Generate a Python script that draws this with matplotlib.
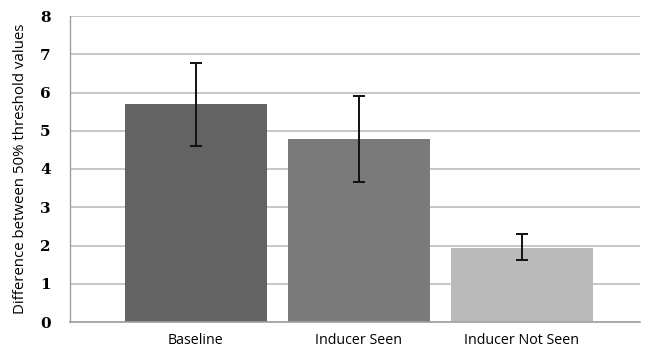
import matplotlib
matplotlib.use("Agg")
import matplotlib.pyplot as plt

categories = ["Baseline", "Inducer Seen", "Inducer Not Seen"]
values = [5.69, 4.78, 1.93]
err_low = [4.61, 3.67, 1.61]
err_high = [6.78, 5.91, 2.30]
colors = ["#636363", "#7a7a7a", "#bababa"]
yticks = [0, 1, 2, 3, 4, 5, 6, 7, 8]

fig = plt.figure(figsize=(6.47, 3.56), dpi=100)
ax = fig.add_axes([70/647, 34/356, 570/647, 306/356])

x = list(range(len(categories)))
yerr = [[v - l for v, l in zip(values, err_low)], [h - v for v, h in zip(values, err_high)]]
ax.bar(x, values, width=0.87, color=colors, zorder=2)
ax.errorbar(x, values, yerr=yerr, fmt="none", ecolor="#111111", elinewidth=1.4,
            capsize=4, capthick=1.4, zorder=3)

ax.set_ylim(0, 8)
ax.set_xlim(-0.773, 2.724)
ax.set_yticks(yticks)
ax.set_yticklabels([str(t) for t in yticks], fontfamily="DejaVu Serif", fontweight="bold", fontsize=11)
ax.yaxis.grid(True, color="#bdbdbd", linewidth=1.2, zorder=0)
ax.set_axisbelow(True)
ax.set_xticks(x)
ax.set_xticklabels(categories, fontfamily="Open Sans", fontsize=10.3)
ax.tick_params(axis="x", length=0, pad=8)
ax.tick_params(axis="y", length=0, pad=14)
for s in ["top", "right"]:
    ax.spines[s].set_visible(False)
ax.spines["left"].set_color("#a0a0a0")
ax.spines["bottom"].set_color("#a0a0a0")
ax.spines["left"].set_linewidth(1.0)
ax.spines["bottom"].set_linewidth(1.2)
ax.set_ylabel("Difference between 50% threshold values", fontfamily="Open Sans", fontsize=10.8)
ax.yaxis.set_label_coords(-0.074, 0.5)

fig.savefig("out.png", dpi=100)
